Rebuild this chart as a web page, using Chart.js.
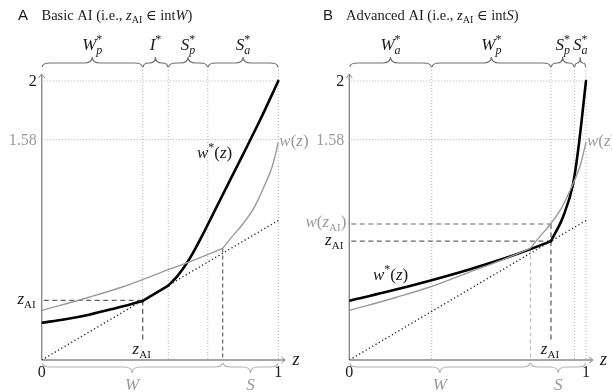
<!DOCTYPE html>
<html><head><meta charset="utf-8">
<script src="https://cdn.jsdelivr.net/npm/chart.js@4.4.0/dist/chart.umd.min.js"></script>
<style>
html,body{margin:0;padding:0;background:#fff;}
#wrap{position:relative;width:612px;height:392px;overflow:hidden;background:#fff;}
canvas{position:absolute;top:0;}
</style></head><body>
<div id="wrap"><canvas id="cA" width="314" height="392" style="left:0"></canvas><canvas id="cB" width="306" height="392" style="left:306px"></canvas></div>
<script>
// ---------- data ----------
// shared wage function w(z) (two pieces, kink at the W/S boundary)
const zS = 0.765;
const wAtS = 0.80;
const wLeftZ  = [0, 0.2, 0.344, 0.5, 0.65, 0.765];
const wLeftV  = [0.355, 0.45, 0.525, 0.625, 0.72, 0.80];
const wRightZ = [0.765, 0.8, 0.85, 0.9, 0.946, 0.975, 1];
const wRightV = [0.80, 0.875, 0.975, 1.10, 1.267, 1.39, 1.56];
const diagZ = [0, 1];
const diagV = [0, 1];
const yTickVals = [2, 1.58];
const yTickText = ['2', '1.58'];
const xTickVals = [0, 1];
const xTickText = ['0', '1'];

// Panel A: Basic AI
const zAI_A = 0.427;
const topBoundsA = [0, 0.427, 0.535, 0.702, 1];
const topLabelsA = [['W','p'], ['I',''], ['S','p'], ['S','a']];
const wStarA1Z = [0, 0.1, 0.2, 0.3, 0.427];
const wStarA1V = [0.267, 0.292, 0.325, 0.366, 0.423];
const wStarA2Z = [0.427, 0.535];
const wStarA2V = [0.423, 0.533];
const wStarA3Z = [0.535, 0.575, 0.613, 0.65, 0.69, 0.754, 0.85, 0.923, 1];
const wStarA3V = [0.533, 0.605, 0.693, 0.80, 0.93, 1.147, 1.47, 1.72, 2.0];

// Panel B: Advanced AI
const zAI_B = 0.852;
const wAtZAI_B = 0.975;
const topBoundsB = [0, 0.348, 0.852, 0.951, 1];
const topLabelsB = [['W','a'], ['W','p'], ['S','p'], ['S','a']];
const wStarB1Z = [0, 0.15, 0.344, 0.5, 0.65, 0.763, 0.852];
const wStarB1V = [0.425, 0.485, 0.57, 0.645, 0.725, 0.793, 0.852];
const wStarB2Z = [0.852, 0.904, 0.946, 0.968, 1];
const wStarB2V = [0.852, 1.03, 1.267, 1.52, 2.0];

// ---------- helpers ----------
const SERIF = '"Liberation Serif", "DejaVu Serif", serif';
const SANS = '"Liberation Sans", "DejaVu Sans", sans-serif';
const fI = s => `italic ${s}px ${SERIF}`;
const fR = s => `${s}px ${SERIF}`;
const BLACK = '#1a1a1a', GRAY = '#9a9a9a';

const pts = (Z, V) => Z.map((z, i) => ({x: z, y: V[i]}));

function seg(ctx, x1, y1, x2, y2, color, w, dash) {
  ctx.beginPath(); ctx.setLineDash(dash || []); ctx.strokeStyle = color; ctx.lineWidth = w;
  ctx.moveTo(x1, y1); ctx.lineTo(x2, y2); ctx.stroke(); ctx.setLineDash([]);
}
function brace(ctx, x1, x2, yl, up, color, w) {
  const s = up ? 1 : -1;
  const e = 4 * s, t = -6 * s;
  const r = Math.min(8, (x2 - x1) / 4);
  const xm = (x1 + x2) / 2;
  ctx.beginPath(); ctx.strokeStyle = color; ctx.lineWidth = w; ctx.setLineDash([]);
  ctx.moveTo(x1, yl + e);
  ctx.quadraticCurveTo(x1, yl, x1 + r, yl);
  ctx.lineTo(xm - r, yl);
  ctx.quadraticCurveTo(xm, yl, xm, yl + t);
  ctx.quadraticCurveTo(xm, yl, xm + r, yl);
  ctx.lineTo(x2 - r, yl);
  ctx.quadraticCurveTo(x2, yl, x2, yl + e);
  ctx.stroke();
}
function mtext(ctx, parts, x, y, align, color) {
  let w = 0;
  for (const p of parts) { ctx.font = p.f; p._w = ctx.measureText(p.t).width; if (p.adv !== false) w += p._w; }
  let cx = align === 'center' ? x - w / 2 : align === 'right' ? x - w : x;
  ctx.textBaseline = 'alphabetic'; ctx.textAlign = 'left';
  for (const p of parts) {
    ctx.font = p.f; ctx.fillStyle = p.c || color;
    ctx.fillText(p.t, cx, y + (p.dy || 0));
    if (p.adv !== false) cx += p._w;
  }
  return w;
}
const zAIParts = () => [{t:'z', f:fI(17)}, {t:'AI', f:fR(11), dy:4}];
const wStarParts = () => [{t:'w', f:fI(17)}, {t:'*', f:fR(12), dy:-7}, {t:'(', f:fR(17)}, {t:'z', f:fI(17)}, {t:')', f:fR(17)}];
const wParts = () => [{t:'w', f:fI(17)}, {t:'(', f:fR(17)}, {t:'z', f:fI(17)}, {t:')', f:fR(17)}];
function starLabel(main, sub) {
  const a = [{t: main, f: fI(17)}];
  if (sub) { a.push({t:'*', f:fR(12), dy:-7, adv:false}); a.push({t: sub, f: fI(12), dy:4}); }
  else a.push({t:'*', f:fR(12), dy:-7});
  return a;
}

function makePlugin(P) {
  return {
    id: 'deco' + P.name,
    beforeDatasetsDraw(chart) {
      const {ctx, scales: {x, y}} = chart;
      ctx.save();
      const x0 = x.getPixelForValue(0), y0 = y.getPixelForValue(0), x1 = x.getPixelForValue(1);
      yTickVals.forEach(v => seg(ctx, x0 + 2, y.getPixelForValue(v), x1, y.getPixelForValue(v), '#a8a8a8', 0.9, [1, 2]));
      P.topBounds.slice(1).forEach(b => {
        const xb = x.getPixelForValue(b);
        let yEnd = y0;
        if (Math.abs(b - P.zAI) < 1e-6) yEnd = y.getPixelForValue(P.zAIstop);
        seg(ctx, xb, 67, xb, yEnd, '#a8a8a8', 0.9, [1, 2]);
      });
      const xz = x.getPixelForValue(P.zAI);
      P.hDash.forEach(v => seg(ctx, x0 + 2, y.getPixelForValue(v), xz, y.getPixelForValue(v), '#666', 1.2, [5, 3.5]));
      seg(ctx, xz, y.getPixelForValue(P.zAIstop), xz, y0 - 17, '#555', 1.2, [5, 3.5]);
      const xs = x.getPixelForValue(zS);
      seg(ctx, xs, y.getPixelForValue(wAtS), xs, y0, P.sDashColor, P.sDashW, [4, 3]);
      const xe = x.getPixelForValue(1.03), ye = y.getPixelForValue(2.05);
      seg(ctx, x0, y0, xe - 1, y0, '#8a8a8a', 1.4);
      seg(ctx, x0, y0, x0, ye + 1, '#8a8a8a', 1.4);
      ctx.beginPath(); ctx.strokeStyle = '#8a8a8a'; ctx.lineWidth = 1;
      ctx.moveTo(xe - 4, y0 - 3); ctx.lineTo(xe, y0); ctx.lineTo(xe - 4, y0 + 3);
      ctx.moveTo(x0 - 3, ye + 4); ctx.lineTo(x0, ye); ctx.lineTo(x0 + 3, ye + 4);
      ctx.stroke();
      ctx.restore();
    },
    afterDatasetsDraw(chart) {
      const {ctx, scales: {x, y}} = chart;
      ctx.save();
      const x0 = x.getPixelForValue(0), y0 = y.getPixelForValue(0);
      ctx.font = `15px ${SANS}`; ctx.fillStyle = BLACK; ctx.textAlign = 'left'; ctx.textBaseline = 'alphabetic';
      ctx.fillText(P.name, P.titleX, 20);
      mtext(ctx, [{t: P.titlePre, f: fR(14.5)}, {t:'z', f:fI(14.5)}, {t:'AI', f:fR(10), dy:3}, {t:' \u2208 int', f:fR(14.5)}, {t: P.titleSet, f:fI(14.5)}, {t:')', f:fR(14.5)}], P.titleTextX, 20, 'left', BLACK);
      for (let i = 0; i < P.topBounds.length - 1; i++) {
        const a = x.getPixelForValue(P.topBounds[i]), b = x.getPixelForValue(P.topBounds[i + 1]);
        brace(ctx, a + 0.5, b - 0.5, 63, true, '#707070', 1.1);
        mtext(ctx, starLabel(P.topLabels[i][0], P.topLabels[i][1]), (a + b) / 2, 50, 'center', BLACK);
      }
      const xs = x.getPixelForValue(zS), x1 = x.getPixelForValue(1);
      brace(ctx, x0 + 0.5, xs - 0.5, 367, false, '#b0b0b0', 1.1);
      brace(ctx, xs + 0.5, x1 - 0.5, 367, false, '#b0b0b0', 1.1);
      mtext(ctx, [{t:'W', f:fI(17)}], (x0 + xs) / 2, 390, 'center', GRAY);
      mtext(ctx, [{t:'S', f:fI(17)}], (xs + x1) / 2, 390, 'center', GRAY);
      xTickVals.forEach((v, i) => mtext(ctx, [{t: xTickText[i], f: fR(16)}], x.getPixelForValue(v), 377, 'center', BLACK));
      mtext(ctx, [{t:'z', f:fI(18)}], x.getPixelForValue(1.03) + 7, 365, 'left', BLACK);
      yTickVals.forEach((v, i) => mtext(ctx, [{t: yTickText[i], f: fR(16)}], x0 - 5, y.getPixelForValue(v) + 5.5, 'right', i === 0 ? BLACK : GRAY));
      mtext(ctx, zAIParts(), x0 - 6, y.getPixelForValue(P.zAI) + 3.5, 'right', BLACK);
      if (P.showWzAI) {
        mtext(ctx, [{t:'w', f:fI(17)}, {t:'(', f:fR(17)}, {t:'z', f:fI(17)}, {t:'AI', f:fR(11), dy:4}, {t:')', f:fR(17)}], x0 - 3, y.getPixelForValue(wAtZAI_B) + 3.5, 'right', GRAY);
      }
      mtext(ctx, zAIParts(), x.getPixelForValue(P.zAI) - 1, y0 - 6, 'center', BLACK);
      mtext(ctx, wParts(), x1 + 1, y.getPixelForValue(1.55) + 2, 'left', GRAY);
      mtext(ctx, wStarParts(), P.wStarLabel[0], P.wStarLabel[1], 'left', BLACK);
      ctx.restore();
    }
  };
}

function makeChart(id, padL, padR, datasets, plugin) {
  return new Chart(document.getElementById(id), {
    type: 'line',
    data: {datasets},
    options: {
      responsive: false, animation: false, devicePixelRatio: 1, events: [],
      layout: {padding: {left: padL, right: padR, top: 74, bottom: 32}},
      plugins: {legend: {display: false}, tooltip: {enabled: false}, title: {display: false}},
      scales: {
        x: {type: 'linear', min: 0, max: 1.03, display: false},
        y: {type: 'linear', min: 0, max: 2.05, display: false}
      },
      elements: {point: {radius: 0}}
    },
    plugins: [plugin]
  });
}

const dsDiag = () => ({data: pts(diagZ, diagV), borderColor: '#222', borderWidth: 1.4, borderDash: [1.2, 2.6], tension: 0});
const dsW = () => [
  {data: pts(wLeftZ, wLeftV), borderColor: GRAY, borderWidth: 1.4, cubicInterpolationMode: 'monotone'},
  {data: pts(wRightZ, wRightV), borderColor: GRAY, borderWidth: 1.4, cubicInterpolationMode: 'monotone'}
];
const black = (Z, V, mono) => ({data: pts(Z, V), borderColor: '#000', borderWidth: 2.6, borderCapStyle: 'round', borderJoinStyle: 'round', cubicInterpolationMode: mono ? 'monotone' : 'default', tension: 0});

makeChart('cA', 41.7, 28.6, [dsDiag(), ...dsW(),
  black(wStarA1Z, wStarA1V, true), black(wStarA2Z, wStarA2V, false), black(wStarA3Z, wStarA3V, true)],
  makePlugin({name: 'A', titleX: 18, titleTextX: 41.5, titlePre: 'Basic AI (i.e., ', titleSet: 'W',
    zAI: zAI_A, zAIstop: zAI_A, topBounds: topBoundsA, topLabels: topLabelsA, hDash: [zAI_A],
    sDashColor: '#555', sDashW: 1.1, showWzAI: false, wStarLabel: [197, 158]}));

makeChart('cB', 43.3, 18.9, [dsDiag(), ...dsW(),
  black(wStarB1Z, wStarB1V, true), black(wStarB2Z, wStarB2V, true)],
  makePlugin({name: 'B', titleX: 17, titleTextX: 40, titlePre: 'Advanced AI (i.e., ', titleSet: 'S',
    zAI: zAI_B, zAIstop: wAtZAI_B, topBounds: topBoundsB, topLabels: topLabelsB, hDash: [zAI_B, wAtZAI_B],
    sDashColor: '#aaa', sDashW: 0.9, showWzAI: true, wStarLabel: [67, 280]}));
</script>
</body></html>
